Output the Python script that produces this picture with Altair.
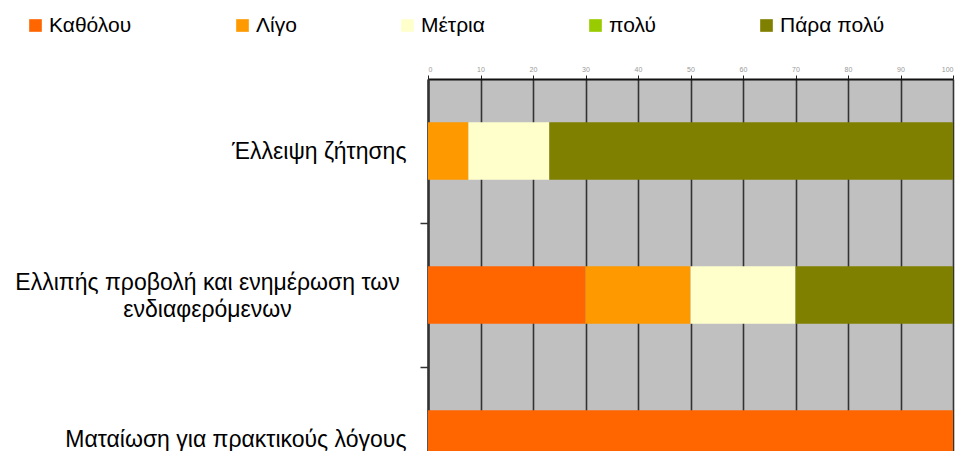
import altair as alt
import pandas as pd

# Reasons (y categories); "|" marks a line break in the axis label
causes = [
    "Έλλειψη ζήτησης",
    "Ελλιπής προβολή και ενημέρωση των|ενδιαφερόμενων",
    "Ματαίωση για πρακτικούς λόγους",
]
levels = ["Καθόλου", "Λίγο", "Μέτρια", "πολύ", "Πάρα πολύ"]
colors = ["#FF6600", "#FF9900", "#FFFFCC", "#99CC00", "#808000"]

# Percentage per level, one entry per reason
katholou = [0, 30, 100]
ligo = [7.7, 20, 0]
metria = [15.4, 20, 0]
poly = [0, 0, 0]
para_poly = [76.9, 30, 0]

series = [katholou, ligo, metria, poly, para_poly]
rows = []
for li, (lvl, vals) in enumerate(zip(levels, series)):
    for cause, v in zip(causes, vals):
        rows.append({"cause": cause, "level": lvl, "order": li, "value": v})
df = pd.DataFrame(rows)

font = "Liberation Sans"
multiline = "indexof(datum.value, '|') >= 0"

chart = (
    alt.Chart(df)
    .mark_bar(strokeWidth=0)
    .encode(
        y=alt.Y(
            "cause:N",
            sort=causes,
            scale=alt.Scale(paddingInner=0.6, paddingOuter=0.3),
            axis=alt.Axis(
                title=None,
                labelExpr="datum.value ? split(datum.value, '|') : ''",
                labelFont=font,
                labelFontSize=23,
                labelColor="#000000",
                labelLineHeight=27,
                labelLimit=0,
                labelAlign={"condition": {"test": multiline, "value": "center"}, "value": "right"},
                labelPadding={"condition": {"test": multiline, "value": 213}, "value": 14},
                tickOffset=72,
                labelOffset={"condition": {"test": multiline, "value": -85}, "value": -72},
                tickSize=8,
                tickColor="#333333",
                tickWidth=1.5,
                domainColor="#333333",
                domainWidth=2.5,
                grid=False,
            ),
        ),
        x=alt.X(
            "value:Q",
            stack="zero",
            scale=alt.Scale(domain=[0, 100], nice=False),
            axis=alt.Axis(
                orient="top",
                title=None,
                values=list(range(0, 101, 10)),
                labelFont=font,
                labelFontSize=7,
                labelColor="#999999",
                labelPadding=3,
                tickSize=4,
                tickColor="#222222",
                domainColor="#111111",
                domainWidth=2,
                grid=True,
                gridColor="#333333",
                gridWidth=1.6,
                gridOpacity=1,
            ),
        ),
        color=alt.Color(
            "level:N",
            sort=levels,
            scale=alt.Scale(domain=levels, range=colors),
            legend=alt.Legend(
                title=None,
                orient="none",
                direction="horizontal",
                legendX=-403,
                legendY=-64,
                labelFont=font,
                labelFontSize=21,
                labelColor="#000000",
                labelOffset=3,
                columnPadding=100,
                gridAlign="none",
                symbolType="square",
                symbolSize=160,
                symbolStrokeWidth=0,
                symbolOpacity=1,
            ),
        ),
        order=alt.Order("order:Q"),
    )
    .properties(
        width=525,
        height=432,
        autosize="none",
        padding={"left": 428, "top": 79, "right": 4, "bottom": 0},
        view=alt.ViewBackground(fill="#C0C0C0", strokeWidth=0),
    )
    .configure(background="#FFFFFF")
)

chart.save("out.html", embed_options={"renderer": "svg", "actions": False})
